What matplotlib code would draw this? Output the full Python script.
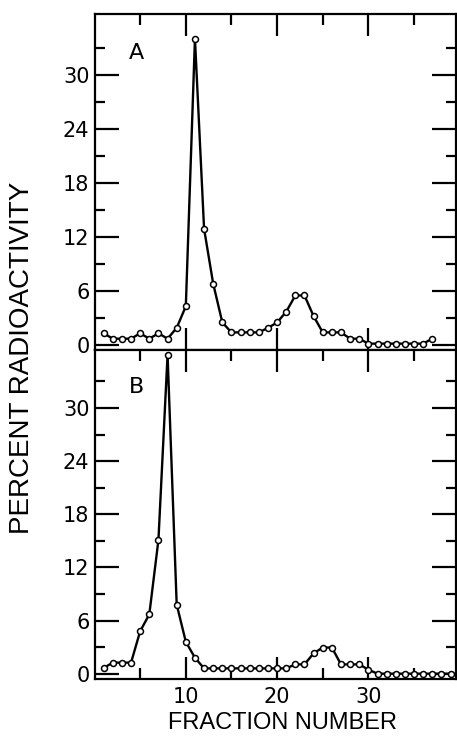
import matplotlib
matplotlib.use("Agg")
import matplotlib.pyplot as plt
from matplotlib.ticker import FixedLocator

# Data: percent radioactivity per fraction
fractions_a = list(range(1, 38))
values_a = [1.3, 0.7, 0.7, 0.7, 1.3, 0.7, 1.3, 0.7, 1.9, 4.3,
            34.0, 12.9, 6.8, 2.5, 1.4, 1.4, 1.4, 1.4, 1.9, 2.5,
            3.7, 5.5, 5.5, 3.2, 1.4, 1.4, 1.4, 0.7, 0.7, 0.15,
            0.15, 0.15, 0.15, 0.15, 0.15, 0.15, 0.7]

fractions_b = list(range(1, 40))
values_b = [0.65, 1.25, 1.25, 1.25, 4.8, 6.7, 15.1, 36.0, 7.8, 3.6,
            1.8, 0.6, 0.6, 0.6, 0.6, 0.6, 0.6, 0.6, 0.6, 0.6,
            0.6, 1.05, 1.05, 2.3, 2.95, 2.95, 1.05, 1.05, 1.05, 0.45,
            0.0, 0.0, 0.0, 0.0, 0.0, 0.0, 0.0, 0.0, 0.0]

y_ticks = [0, 6, 12, 18, 24, 30]
x_ticks = [10, 20, 30]
panel_labels = ["A", "B"]

W, H = 457, 740
fig = plt.figure(figsize=(W / 100, H / 100), dpi=100)

left = 95 / W
width = 361 / W
axA = fig.add_axes([left, (H - 349.5) / H, width, (349.5 - 14) / H])
axB = fig.add_axes([left, (H - 679) / H, width, (679 - 349.5) / H])

for ax, xs, ys, lab, ylim in [
    (axA, fractions_a, values_a, panel_labels[0], (-0.5, 36.75)),
    (axB, fractions_b, values_b, panel_labels[1], (-0.6, 36.6)),
]:
    ax.plot(xs, ys, color="black", lw=1.7, marker="o", ms=4.3,
            mfc="white", mec="black", mew=1.1, zorder=3, clip_on=False)
    ax.set_xlim(0.05, 39.6)
    ax.set_ylim(*ylim)
    ax.yaxis.set_major_locator(FixedLocator(y_ticks))
    ax.yaxis.set_minor_locator(FixedLocator([3, 9, 15, 21, 27, 33]))
    ax.xaxis.set_major_locator(FixedLocator(x_ticks))
    ax.xaxis.set_minor_locator(FixedLocator([5, 15, 25, 35]))
    for s in ax.spines.values():
        s.set_linewidth(1.6)
    ax.tick_params(axis="y", which="major", direction="in", length=17,
                   width=1.6, left=True, right=True, labelsize=15, pad=4)
    ax.tick_params(axis="y", which="minor", direction="in", length=7,
                   width=1.6, left=True, right=True)
    ax.tick_params(axis="x", which="major", direction="in", length=16,
                   width=1.6, top=True, bottom=True, labelsize=15, pad=6)
    ax.tick_params(axis="x", which="minor", direction="in", length=8,
                   width=1.6, top=True, bottom=True)
    for t in ax.get_yticklabels() + ax.get_xticklabels():
        t.set_family("DejaVu Sans")
    ax.text(0.115, 0.885, lab, transform=ax.transAxes, fontsize=16,
            family="DejaVu Sans", ha="center", va="center")

axA.tick_params(axis="x", which="minor", bottom=False)
axA.tick_params(axis="x", labelbottom=False)

fig.text(22 / W, 1 - 358 / H, "PERCENT RADIOACTIVITY", rotation=90,
         ha="center", va="center", fontsize=20, family="Liberation Sans")
fig.text(282 / W, 1 - 723 / H, "FRACTION NUMBER", ha="center",
         va="center", fontsize=17, family="Liberation Sans")

fig.savefig("out.png", dpi=100)
